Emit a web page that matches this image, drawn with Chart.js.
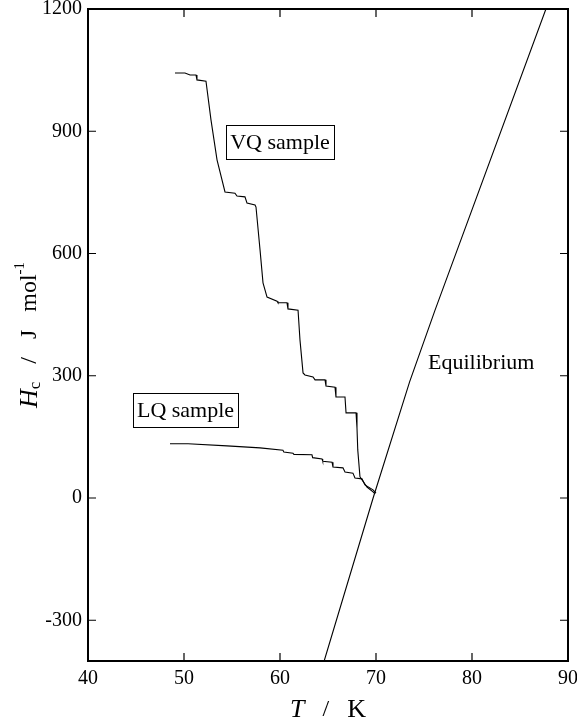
<!DOCTYPE html>
<html>
<head>
<meta charset="utf-8">
<script src="https://cdn.jsdelivr.net/npm/chart.js@4.4.1/dist/chart.umd.min.js"></script>
<style>
  html, body { margin: 0; padding: 0; background: #fff; }
</style>
</head>
<body>
<canvas id="chart" width="577" height="723"></canvas>
<script>
// VQ sample (T en K, Hc en J/mol)
const vqT = [49.06, 50.10, 50.63, 51.25, 51.35, 52.29, 52.81, 53.44, 54.27, 55.31, 55.52, 56.35, 56.56, 57.40,
             57.50, 57.92, 58.23, 58.65, 59.69, 59.79, 60.73, 60.83, 61.88, 62.08, 62.40, 62.60, 63.44, 63.65,
             64.69, 64.79, 65.73, 65.83, 66.77, 66.88, 67.92, 68.02, 68.10, 68.33, 69.06, 69.69, 69.90];
const vqH = [1043, 1043, 1038, 1038, 1026, 1023, 928, 830, 751, 748, 741, 739, 724, 719,
             714, 609, 528, 493, 483, 479, 479, 464, 461, 388, 307, 302, 297, 290,
             290, 275, 272, 248, 248, 209, 209, 172, 118, 52, 27, 15, 10];

// LQ sample
const lqT = [48.54, 50.42, 54.48, 57.92, 60.31, 60.40, 61.35, 61.45, 63.33, 63.40, 64.38, 64.45, 65.42, 65.52,
             66.56, 66.77, 67.60, 67.81, 68.54, 68.85, 69.69, 70.00];
const lqH = [133, 133, 128, 123, 117, 113, 110, 107, 106, 99, 96, 90, 88, 76,
             74, 64, 61, 49, 47, 32, 20, 12];

// Courbe d'équilibre
const eqT = [64.6, 69.7, 73.5, 76.15, 87.7];
const eqH = [-400, 0, 285, 461, 1200];

const xTicks = [40, 50, 60, 70, 80, 90];
const yTicks = [-300, 0, 300, 600, 900, 1200];

const labels = [
  { text: 'VQ sample', t: 60.0, h: 874, box: true, align: 'center' },
  { text: 'LQ sample', t: 50.16, h: 216, box: true, align: 'center' },
  { text: 'Equilibrium', t: 75.42, h: 334, box: false, align: 'left' }
];

const serif = '"Liberation Serif", "DejaVu Serif", serif';

const toPoints = (xs, ys) => xs.map((x, i) => ({ x, y: ys[i] }));

function lineSet(data) {
  return {
    data,
    showLine: true,
    borderColor: '#000',
    borderWidth: 1.1,
    pointRadius: 0,
    tension: 0,
    fill: false
  };
}

// pas de marge automatique pour les étiquettes qui débordent
function noPadding(s) {
  s.paddingTop = 0;
  s.paddingBottom = 0;
  s.paddingLeft = 0;
  s.paddingRight = 0;
}

// Cadre, graduations internes, étiquettes et titres des axes
const decorPlugin = {
  id: 'decor',
  afterDraw(chart) {
    const { ctx, chartArea: a, scales: { x, y } } = chart;
    ctx.save();
    ctx.strokeStyle = '#000';
    ctx.fillStyle = '#000';

    // cadre
    ctx.lineWidth = 2;
    ctx.strokeRect(a.left, a.top, a.right - a.left, a.bottom - a.top);

    // graduations vers l'intérieur
    ctx.lineWidth = 1.2;
    const len = 8;
    ctx.beginPath();
    xTicks.forEach(v => {
      const px = x.getPixelForValue(v);
      ctx.moveTo(px, a.bottom); ctx.lineTo(px, a.bottom - len);
      ctx.moveTo(px, a.top); ctx.lineTo(px, a.top + len);
    });
    yTicks.forEach(v => {
      const py = y.getPixelForValue(v);
      ctx.moveTo(a.left, py); ctx.lineTo(a.left + len, py);
      ctx.moveTo(a.right, py); ctx.lineTo(a.right - len, py);
    });
    ctx.stroke();

    // étiquettes dans le graphique
    ctx.font = '22px ' + serif;
    ctx.textBaseline = 'middle';
    labels.forEach(l => {
      const px = x.getPixelForValue(l.t);
      const py = y.getPixelForValue(l.h);
      const w = ctx.measureText(l.text).width;
      ctx.textAlign = l.align;
      ctx.fillText(l.text, px, py + 1);
      if (l.box) {
        ctx.lineWidth = 1;
        ctx.strokeRect(Math.round(px - w / 2 - 4) + 0.5, Math.round(py - 17) + 0.5, Math.round(w + 8), 34);
      }
    });

    // titre axe X : T / K
    const cx = (a.left + a.right) / 2;
    const ty = 710;
    ctx.textBaseline = 'middle';
    ctx.textAlign = 'left';
    const partsX = [
      { s: 'T', f: 'italic 26px ' + serif },
      { s: '   /   ', f: '24px ' + serif },
      { s: 'K', f: '26px ' + serif }
    ];
    let total = 0;
    partsX.forEach(p => { ctx.font = p.f; p.w = ctx.measureText(p.s).width; total += p.w; });
    let xx = cx - total / 2;
    partsX.forEach(p => { ctx.font = p.f; ctx.fillText(p.s, xx, ty); xx += p.w; });

    // titre axe Y : Hc / J mol-1
    const cy = (a.top + a.bottom) / 2;
    ctx.translate(30, cy);
    ctx.rotate(-Math.PI / 2);
    const partsY = [
      { s: 'H', f: 'italic 26px ' + serif, dy: 0 },
      { s: 'c', f: '17px ' + serif, dy: 6 },
      { s: '   /   J   mol', f: '24px ' + serif, dy: 0 },
      { s: '-1', f: '15px ' + serif, dy: -10 }
    ];
    total = 0;
    partsY.forEach(p => { ctx.font = p.f; p.w = ctx.measureText(p.s).width; total += p.w; });
    xx = -total / 2;
    partsY.forEach(p => { ctx.font = p.f; ctx.fillText(p.s, xx, p.dy); xx += p.w; });

    ctx.restore();
  }
};

new Chart(document.getElementById('chart').getContext('2d'), {
  type: 'scatter',
  data: {
    datasets: [
      lineSet(toPoints(vqT, vqH)),
      lineSet(toPoints(lqT, lqH)),
      lineSet(toPoints(eqT, eqH))
    ]
  },
  options: {
    responsive: false,
    animation: false,
    devicePixelRatio: 1,
    layout: { padding: { top: 9, right: 9, left: 0, bottom: 0 } },
    plugins: {
      legend: { display: false },
      tooltip: { enabled: false }
    },
    scales: {
      x: {
        type: 'linear',
        min: 40,
        max: 90,
        afterFit: s => { s.height = 62; noPadding(s); },
        afterBuildTicks: s => { s.ticks = xTicks.map(v => ({ value: v })); },
        grid: { display: false, drawTicks: false },
        border: { display: false },
        ticks: {
          autoSkip: false,
          maxRotation: 0,
          padding: 6,
          color: '#000',
          font: { family: serif, size: 20 },
          callback: v => String(v)
        }
      },
      y: {
        type: 'linear',
        min: -400,
        max: 1200,
        afterFit: s => { s.width = 88; noPadding(s); },
        afterBuildTicks: s => { s.ticks = yTicks.map(v => ({ value: v })); },
        grid: { display: false, drawTicks: false },
        border: { display: false },
        ticks: {
          autoSkip: false,
          padding: 6,
          color: '#000',
          font: { family: serif, size: 20 },
          callback: v => String(v)
        }
      }
    }
  },
  plugins: [decorPlugin]
});
</script>
</body>
</html>
